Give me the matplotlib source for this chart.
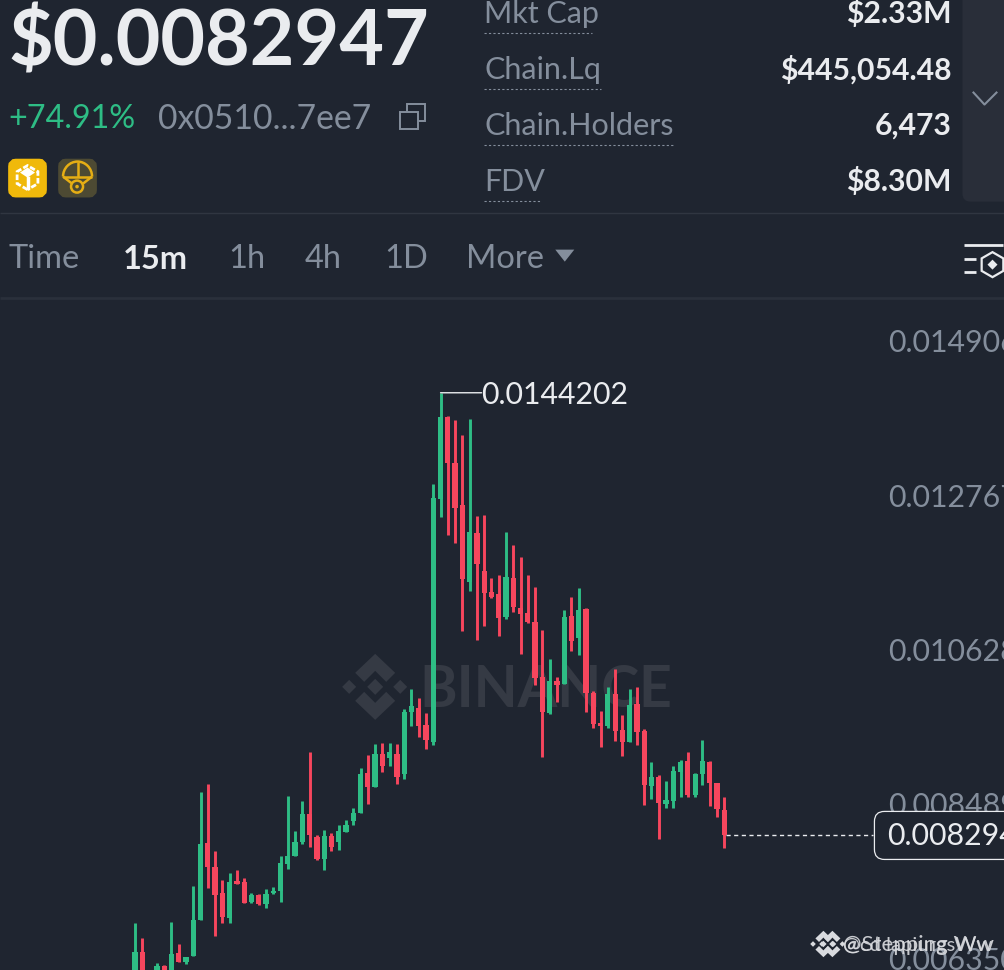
import numpy as np
import matplotlib
matplotlib.use("Agg")
import matplotlib.pyplot as plt
from matplotlib.patches import FancyBboxPatch, Polygon, Circle, Rectangle, RegularPolygon, Arc

plt.rcParams['font.family'] = ['Lato', 'DejaVu Sans']

# prices in units of 0.001
opens = [6.355, 6.673, 6.147, 6.285, 6.479, 6.355, 6.660, 6.535, 6.618, 7.117, 8.184, 7.851, 7.491, 7.145, 7.657, 7.644, 7.366, 7.463, 7.339, 7.491, 7.519, 7.893, 8.004, 8.198, 8.586, 8.267, 7.962, 8.281, 8.198, 8.337, 8.489, 8.600, 9.154, 8.960, 9.418, 9.362, 9.418, 9.140, 10.000, 10.055, 9.820,
         9.584, 12.952, 14.088, 13.451, 12.869, 11.802, 12.481, 11.954, 11.663, 11.635, 11.316, 11.857, 11.441, 11.372, 11.247, 10.485, 9.986, 10.429, 10.388, 11.330, 11.025, 11.427, 10.263, 9.847, 9.806, 10.249, 9.750, 9.584, 10.111, 9.736, 8.974, 9.099, 8.725, 8.766, 9.168, 9.321, 8.849, 9.140, 9.307, 9.016, 8.642]
closes = [6.673, 6.285, 6.285, 6.479, 6.355, 6.646, 6.535, 6.604, 7.117, 8.170, 7.851, 7.463, 7.158, 7.644, 7.616, 7.353, 7.463, 7.339, 7.477, 7.519, 7.907, 8.004, 8.198, 8.586, 8.295, 7.962, 8.281, 8.129, 8.350, 8.434, 8.600, 9.140, 8.960, 9.418, 9.251, 9.445, 9.099, 10.000, 10.083, 9.806, 9.612,
          12.966, 14.088, 13.451, 12.827, 11.843, 12.495, 12.051, 11.649, 11.594, 11.303, 11.871, 11.455, 11.358, 11.247, 10.471, 10.000, 10.429, 10.374, 11.316, 10.984, 11.414, 10.263, 9.833, 9.806, 10.249, 9.736, 9.584, 10.097, 9.723, 8.988, 9.099, 8.739, 8.780, 9.182, 9.307, 8.849, 9.140, 9.321, 9.016, 8.655, 8.295]
highs = [7.075, 6.867, 6.355, 6.521, 6.493, 7.089, 6.784, 6.604, 7.588, 8.891, 9.002, 8.073, 7.671, 7.768, 7.810, 7.699, 7.491, 7.477, 7.547, 7.574, 8.004, 8.836, 8.350, 8.766, 9.445, 8.295, 8.364, 8.323, 8.434, 8.503, 8.669, 9.224, 9.404, 9.556, 9.570, 9.570, 9.556, 10.041, 10.319, 10.194, 9.986,
         13.160, 14.420, 14.102, 14.047, 13.839, 14.061, 12.716, 12.730, 11.857, 11.899, 12.495, 12.314, 12.148, 11.899, 11.732, 11.136, 10.734, 10.485, 11.414, 11.594, 11.718, 11.441, 10.291, 10.014, 10.346, 10.596, 9.958, 10.319, 10.346, 9.764, 9.307, 9.127, 9.043, 9.251, 9.335, 9.445, 9.154, 9.612, 9.321, 9.016, 8.822]
lows = [6.216, 6.147, 6.077, 6.216, 6.285, 6.285, 6.535, 6.507, 6.618, 7.117, 7.560, 6.895, 7.075, 7.075, 7.616, 7.353, 7.353, 7.325, 7.283, 7.477, 7.366, 7.824, 8.004, 8.170, 8.129, 7.948, 7.810, 8.073, 8.087, 8.337, 8.434, 8.600, 8.725, 8.960, 9.168, 9.251, 9.002, 9.071, 9.806, 9.653, 9.487,
        9.542, 12.702, 12.453, 12.342, 11.122, 11.677, 10.998, 11.192, 11.580, 11.053, 11.289, 11.386, 10.804, 11.233, 10.374, 9.376, 9.972, 10.138, 10.388, 10.845, 10.790, 10.000, 9.778, 9.515, 9.778, 9.598, 9.390, 9.584, 9.542, 8.711, 8.794, 8.240, 8.669, 8.669, 8.822, 8.822, 8.822, 8.988, 8.697, 8.544, 8.115]

tick_values = [0.014906, 0.012767, 0.010628, 0.008489, 0.006350]
tick_labels = ['0.014906', '0.012767', '0.010628', '0.008489', '0.006350']
high_label = '0.0144202'
last_price = 0.0082947
last_label = '0.0082947'

stats_names = ['Mkt Cap', 'Chain.Lq', 'Chain.Holders', 'FDV']
stats_values = ['$2.33M', '$445,054.48', '6,473', '$8.30M']
periods = ['Time', '15m', '1h', '4h', '1D', 'More']

BG = '#1f2530'
GREEN = '#2ebd85'
RED = '#f6465d'
GREY = '#848e9c'
WHITE = '#eaecef'

W, H = 1004, 970
fig = plt.figure(figsize=((W + 0.5) / 100, (H + 0.5) / 100), dpi=100, facecolor=BG)

# pixel layer for the app chrome
px = fig.add_axes([0, 0, 1, 1], zorder=0)
px.set_xlim(0, W)
px.set_ylim(H, 0)
px.axis('off')


def logo(cx, cy, s, color, z=1):
    top = [(0, -33), (20, -14), (11, -5), (0, -16), (-11, -5), (-20, -14)]
    bot = [(x, -y) for x, y in top]
    for shape in (top, bot):
        px.add_patch(Polygon([(cx + x * s, cy + y * s) for x, y in shape], fc=color, ec='none', zorder=z))
    for dx, r in ((0, 8), (-26, 7), (25, 7)):
        d = [(cx + dx * s, cy - r * s), (cx + (dx + r) * s, cy), (cx + dx * s, cy + r * s), (cx + (dx - r) * s, cy)]
        px.add_patch(Polygon(d, fc=color, ec='none', zorder=z))


def line(xs, ys, color=GREY, lw=1.0, **kw):
    px.plot(xs, ys, color=color, lw=lw, solid_capstyle='butt', **kw)


px.text(8, 43, '$0.0082947', color=WHITE, fontsize=55.5, fontweight='bold', va='center', ha='left')
px.text(8, 119, '+74.91%', color=GREEN, fontsize=23.3, va='center', ha='left')
px.text(158, 119, '0x0510...7ee7', color=GREY, fontsize=24.3, va='center', ha='left')

# copy icon
px.add_patch(Rectangle((407, 104), 18, 17, fc='none', ec=GREY, lw=1.4))
px.add_patch(Rectangle((400, 112), 18, 17, fc=BG, ec=GREY, lw=1.4, zorder=3))

# yellow badge with the chain cube
px.add_patch(FancyBboxPatch((13, 164), 29, 29, boxstyle='round,pad=0,rounding_size=3', mutation_aspect=1, fc='#f0b90b', ec='#f0b90b', lw=7))
px.add_patch(RegularPolygon((27.5, 178), 6, radius=12, fc='none', ec='white', lw=2, ls=(0, (2, 0.8)), zorder=3))
px.add_patch(Polygon([(27.5, 168), (35, 173), (27.5, 178), (20, 173)], fc='white', ec='none', zorder=3))
px.plot([27.5, 27.5], [178, 188], color='white', lw=2.5, zorder=3)

# parachute badge
px.add_patch(FancyBboxPatch((63, 164), 29, 29, boxstyle='round,pad=0,rounding_size=3', fc='#4d4a33', ec='#4d4a33', lw=7))
Y = '#e6ae14'
px.add_patch(Arc((77.5, 177), 29, 30, theta1=180, theta2=360, ec=Y, lw=1.8, zorder=3))
line([63, 92], [177, 177], Y, 1.8, zorder=3)
line([77.5, 77.5], [162, 177], Y, 1.8, zorder=3)
line([63, 72], [177, 184], Y, 1.8, zorder=3)
line([92, 83], [177, 184], Y, 1.8, zorder=3)
px.add_patch(Circle((77, 187), 6, fc='none', ec=Y, lw=1.8, zorder=3))
px.add_patch(Circle((77, 187), 1.8, fc=Y, ec='none', zorder=3))

# stats block
for i, name in enumerate(stats_names):
    y = 13 + 56 * i
    px.text(484, y + 0.5, name, color=GREY, fontsize=22, va='center', ha='left')
    px.text(951, y + 0.5, stats_values[i], color=WHITE, fontsize=21.7, fontweight='bold', va='center', ha='right')
end_x = [592, 601, 673, 541]
for i, x1 in enumerate(end_x):
    y = 33 + 56 * i
    px.plot([484, x1], [y, y], color=GREY, lw=0.8, ls=(0, (2, 2)))

px.add_patch(FancyBboxPatch((962, -20), 60, 222, boxstyle='round,pad=0,rounding_size=8', fc='#292e39', ec='none'))
px.plot([973, 984, 996], [93, 105, 93], color=GREY, lw=1.5)

line([0, W], [213, 213], '#303641', 1.0)
line([0, W], [298.5, 298.5], '#2a303b', 2.0)

# period bar
period_x = [8, 123, 228, 305, 384, 466]
for name, x in zip(periods, period_x):
    active = name == '15m'
    px.text(x, 259, name, color=WHITE if active else GREY, fontsize=23.5,
            fontweight='bold' if active else 'normal', va='center', ha='left')
px.add_patch(Polygon([(555, 250), (574, 250), (564.5, 262)], fc=GREY, ec='none'))

# indicator icon
line([964, 1003], [245, 245], WHITE, 2.0)
line([964, 976], [259, 259], WHITE, 2.0)
line([964, 976], [272, 272], WHITE, 2.0)
px.add_patch(RegularPolygon((992, 265), 6, radius=12.5, fc='none', ec=WHITE, lw=1.6))
px.add_patch(Polygon([(992, 260), (997, 265), (992, 270), (987, 265)], fc=WHITE, ec='none'))

# watermark behind the candles
logo(375, 687, 1.0, '#353a44')
px.text(419, 690, 'BINANCE', color='#353a44', fontsize=41, fontweight='bold', va='center', ha='left')

# candle chart, x is candle number and y is price
ax = fig.add_axes([0, 0, 1, (H - 300) / H], zorder=1)
ax.patch.set_alpha(0)
ax.set_xlim(-135 / 7.27, (W - 135) / 7.27)
ax.set_ylim(last_price - 135 * 1.386e-5, last_price + 535 * 1.386e-5)
for s in ax.spines.values():
    s.set_visible(False)
ax.set_xticks([])
ax.set_yticks([])

o = np.array(opens) * 1e-3
c = np.array(closes) * 1e-3
h = np.array(highs) * 1e-3
l = np.array(lows) * 1e-3
idx = np.arange(len(o))
colors = [GREEN if a >= b else RED for a, b in zip(c, o)]
ax.vlines(idx, l, h, colors=colors, lw=2.1, zorder=2)
ax.bar(idx, np.abs(c - o), bottom=np.minimum(o, c), width=0.72, color=colors, zorder=3)

# price labels sit a bit above their level
trans = ax.get_yaxis_transform()
for v, lab in zip(tick_values, tick_labels):
    ax.annotate(lab, xy=(888 / W, v), xycoords=trans, xytext=(0, 15), textcoords='offset pixels',
                color=GREY, fontsize=21.8, va='center', ha='left', annotation_clip=False, zorder=1)

# highest price marker
top = int(np.argmax(h))
ax.annotate('', xy=(top, h[top]), xytext=(41, 0), textcoords='offset pixels',
            arrowprops=dict(arrowstyle='-', color=WHITE, lw=1.0, shrinkA=0, shrinkB=0), zorder=6)
ax.annotate(high_label, xy=(top, h[top]), xytext=(41, -2), textcoords='offset pixels', color=WHITE,
            fontsize=21.8, va='center', ha='left', zorder=6)

# last price line and box
ax.plot([idx[-1] + 0.3, (873 - 135) / 7.27], [last_price, last_price], color=WHITE, lw=1.0, ls=(0, (3, 2.5)), zorder=2)
box = FancyBboxPatch((874, 811.5), 160, 48, boxstyle='round,pad=0,rounding_size=10', fc=BG, ec=WHITE, lw=0.9,
                     transform=px.transData, zorder=4, clip_on=False)
ax.add_patch(box)
ax.annotate(last_label, xy=(888 / W, last_price), xycoords=trans, xytext=(-1, -1), textcoords='offset pixels',
            color=WHITE, fontsize=21.8, va='center', ha='left', annotation_clip=False, zorder=5)

# account watermark at the bottom, two copies overlap in the source
logo(823, 944, 0.4, '#d9dbdf', z=5)
logo(832, 944, 0.4, '#d9dbdf', z=5)
px2 = fig.add_axes([0, 0, 1, 1], zorder=2)
px2.set_xlim(0, W)
px2.set_ylim(H, 0)
px2.axis('off')
px2.text(843, 945, '@Stepping Ww', color='#d9dbdf', fontsize=16, va='center', ha='left', alpha=0.9)
px2.text(843, 945, '@cd lapiurgsWw', color='#d9dbdf', fontsize=14.6, va='center', ha='left', alpha=0.9)

fig.savefig('out.png', dpi=100, facecolor=BG)
